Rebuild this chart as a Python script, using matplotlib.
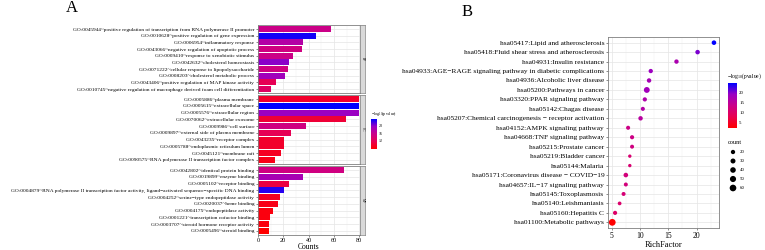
import numpy as np
import matplotlib
matplotlib.use('Agg')
import matplotlib.pyplot as plt
from matplotlib.colors import LinearSegmentedColormap, Normalize
from matplotlib.cm import ScalarMappable

plt.rcParams['font.family'] = ['Liberation Serif', 'DejaVu Serif']
plt.rcParams['mathtext.fontset'] = 'custom'
plt.rcParams['mathtext.rm'] = 'Liberation Serif'
plt.rcParams['mathtext.it'] = 'Liberation Serif:italic'

# ---- panel A data (GO enrichment) ----
bp_terms = ['GO:0045944~positive regulation of transcription from RNA polymerase II promoter',
            'GO:0010628~positive regulation of gene expression',
            'GO:0006954~inflammatory response',
            'GO:0043066~negative regulation of apoptotic process',
            'GO:0009410~response to xenobiotic stimulus',
            'GO:0042632~cholesterol homeostasis',
            'GO:0071222~cellular response to lipopolysaccharide',
            'GO:0008203~cholesterol metabolic process',
            'GO:0043406~positive regulation of MAP kinase activity',
            'GO:0010745~negative regulation of macrophage derived foam cell differentiation']
bp_counts = [57.5, 45.5, 35.5, 34.5, 27.5, 24.6, 23.5, 21.4, 14.6, 10.5]
bp_logp = [15.5, 23.0, 17.5, 15.0, 15.5, 20.0, 15.0, 19.0, 12.0, 13.0]

cc_terms = ['GO:0005886~plasma membrane',
            'GO:0005615~extracellular space',
            'GO:0005576~extracellular region',
            'GO:0070062~extracellular exosome',
            'GO:0009986~cell surface',
            'GO:0009897~external side of plasma membrane',
            'GO:0043235~receptor complex',
            'GO:0005788~endoplasmic reticulum lumen',
            'GO:0045121~membrane raft',
            'GO:0090575~RNA polymerase II transcription factor complex']
cc_counts = [80, 80, 80, 69.5, 37.6, 26.4, 20.7, 20.7, 18.3, 13.6]
cc_logp = [10.0, 23.5, 19.5, 10.5, 15.0, 12.0, 10.0, 10.0, 9.5, 9.0]

mf_terms = ['GO:0042802~identical protein binding',
            'GO:0019899~enzyme binding',
            'GO:0005102~receptor binding',
            'GO:0004879~RNA polymerase II transcription factor activity, ligand\u2212activated sequence\u2212specific DNA binding',
            'GO:0004252~serine\u2212type endopeptidase activity',
            'GO:0020037~heme binding',
            'GO:0004175~endopeptidase activity',
            'GO:0001221~transcription cofactor binding',
            'GO:0003707~steroid hormone receptor activity',
            'GO:0005496~steroid binding']
mf_counts = [68.2, 35.5, 24.3, 20.7, 17.5, 15.4, 11.5, 9.4, 8.4, 8.4]
mf_logp = [15.0, 18.5, 11.0, 22.5, 9.5, 9.0, 8.5, 8.5, 8.5, 7.8]

# ---- panel B data (KEGG enrichment) ----
kegg_terms = ['hsa05417:Lipid and atherosclerosis',
              'hsa05418:Fluid shear stress and atherosclerosis',
              'hsa04931:Insulin resistance',
              'hsa04933:AGE\u2212RAGE signaling pathway in diabetic complications',
              'hsa04936:Alcoholic liver disease',
              'hsa05200:Pathways in cancer',
              'hsa03320:PPAR signaling pathway',
              'hsa05142:Chagas disease',
              'hsa05207:Chemical carcinogenesis \u2212 receptor activation',
              'hsa04152:AMPK signaling pathway',
              'hsa04668:TNF signaling pathway',
              'hsa05215:Prostate cancer',
              'hsa05219:Bladder cancer',
              'hsa05144:Malaria',
              'hsa05171:Coronavirus disease \u2212 COVID\u221219',
              'hsa04657:IL\u221217 signaling pathway',
              'hsa05145:Toxoplasmosis',
              'hsa05140:Leishmaniasis',
              'hsa05160:Hepatitis C',
              'hsa01100:Metabolic pathways']
kegg_rich = [23.06, 20.17, 16.44, 11.9, 11.6, 11.2, 10.85, 10.5, 10.1, 7.9,
             8.6, 8.6, 8.2, 8.2, 7.5, 7.5, 7.1, 6.4, 5.6, 5.1]
kegg_count = [24, 23, 21, 20, 22, 45, 19, 17, 22, 17, 18, 16, 9, 9, 24, 16, 16, 13, 18, 63]
kegg_logp = [24.4, 20.0, 17.0, 18.5, 17.5, 18.0, 16.5, 16.0, 15.5, 13.0,
             13.0, 12.5, 11.0, 11.0, 12.0, 12.0, 11.5, 10.5, 10.0, 2.4]
legend_counts = [20, 30, 40, 50, 60]

cmap = LinearSegmentedColormap.from_list(
    'rb', ['#FF0000', '#E80050', '#CA0089', '#9A00C3', '#0000FF'])

W, H = 765, 250
fig = plt.figure(figsize=(W / 100, H / 100), dpi=100)


def box(x0, y0, x1, y1):
    return fig.add_axes([x0 / W, 1 - y1 / H, (x1 - x0) / W, (y1 - y0) / H])


def style(ax):
    for s in ax.spines.values():
        s.set_color('#7F7F7F')
        s.set_linewidth(0.6)
    ax.set_axisbelow(True)
    ax.tick_params(which='both', length=1.5, width=0.4, color='#333333', pad=1.2)
    ax.tick_params(which='minor', length=0)


def size(c):
    return 3 + np.asarray(c) * 0.33


# ---- panel A ----
all_logp = bp_logp + cc_logp + mf_logp
normA = Normalize(min(all_logp), max(all_logp))
facets = [('BP', bp_terms, bp_counts, bp_logp, 25, 93),
          ('CC', cc_terms, cc_counts, cc_logp, 95, 164),
          ('MF', mf_terms, mf_counts, mf_logp, 166, 235)]
for i, (name, terms, counts, logp, top, bot) in enumerate(facets):
    ax = box(258, top, 360, bot)
    y = np.arange(len(terms))
    ax.barh(y, counts, height=0.9, color=cmap(normA(np.array(logp))), zorder=2)
    ax.set_ylim(len(terms) - 0.4, -0.6)
    ax.set_xlim(0, 80.5)
    ax.set_yticks(y)
    ax.set_yticklabels(terms, fontsize=3.9)
    ax.set_xticks([0, 20, 40, 60, 80])
    ax.set_xticks([10, 30, 50, 70], minor=True)
    ax.grid(which='major', color='#E5E5E5', lw=0.5)
    ax.grid(which='minor', axis='x', color='#F2F2F2', lw=0.35)
    style(ax)
    if i < 2:
        ax.tick_params(axis='x', which='both', bottom=False, labelbottom=False)
    else:
        ax.tick_params(axis='x', labelsize=4.5, pad=0.8)
        ax.set_xlabel('Counts', fontsize=5.5, labelpad=0)
    st = box(360, top, 365, bot)
    st.set_facecolor('#D9D9D9')
    st.set_xticks([])
    st.set_yticks([])
    for s in st.spines.values():
        s.set_color('#7F7F7F')
        s.set_linewidth(0.5)
    st.text(0.5, 0.5, name, rotation=-90, fontsize=2.5, ha='center', va='center',
            transform=st.transAxes)

caxA = box(371, 119, 377, 149)
cbA = fig.colorbar(ScalarMappable(norm=normA, cmap=cmap), cax=caxA)
cbA.outline.set_visible(False)
cbA.set_ticks([12, 16, 20])
caxA.tick_params(labelsize=3, length=0, pad=1)
fig.text(371 / W, 1 - 114 / H, '\u2212log$_{10}$(pvalue)', fontsize=3, va='center')
fig.text(72 / W, 1 - 8 / H, 'A', fontsize=12, ha='center', va='center')

# ---- panel B ----
normB = Normalize(min(kegg_logp), max(kegg_logp))
axB = box(608, 37, 719, 228)
yb = np.arange(len(kegg_terms))
axB.scatter(kegg_rich, yb, s=size(kegg_count), c=kegg_logp, cmap=cmap, norm=normB,
            zorder=3, linewidths=0)
axB.set_ylim(len(kegg_terms) - 0.4, -0.6)
axB.set_xlim(4.35, 23.95)
axB.set_yticks(yb)
axB.set_yticklabels(kegg_terms, fontsize=5.3)
axB.set_xticks([5, 10, 15, 20])
axB.set_xticks([7.5, 12.5, 17.5, 22.5], minor=True)
axB.grid(which='major', color='#E5E5E5', lw=0.5)
axB.grid(which='minor', axis='x', color='#F2F2F2', lw=0.35)
style(axB)
axB.tick_params(axis='x', labelsize=5.5)
axB.set_xlabel('RichFactor', fontsize=6, labelpad=1)

caxB = box(728, 83, 737, 128)
cbB = fig.colorbar(ScalarMappable(norm=normB, cmap=cmap), cax=caxB)
cbB.outline.set_visible(False)
cbB.set_ticks([5, 10, 15, 20])
caxB.tick_params(labelsize=3.5, length=0, pad=1.5)
fig.text(727 / W, 1 - 76 / H, '\u2212log$_{10}$(pvalue)', fontsize=4.1, va='center')
fig.text(467 / W, 1 - 12.5 / H, 'B', fontsize=12, ha='center', va='center')

# size legend
lg = fig.add_axes([0, 0, 1, 1])
lg.set_xlim(0, W)
lg.set_ylim(H, 0)
lg.axis('off')
lg.text(728, 142, 'count', fontsize=4.5, va='center')
ly = [152, 161, 170, 179, 188]
lg.scatter([733] * len(legend_counts), ly, s=size(legend_counts), color='black', linewidths=0)
for c, yy in zip(legend_counts, ly):
    lg.text(740, yy, str(c), fontsize=3.5, va='center')

fig.savefig('out.png', dpi=100)
